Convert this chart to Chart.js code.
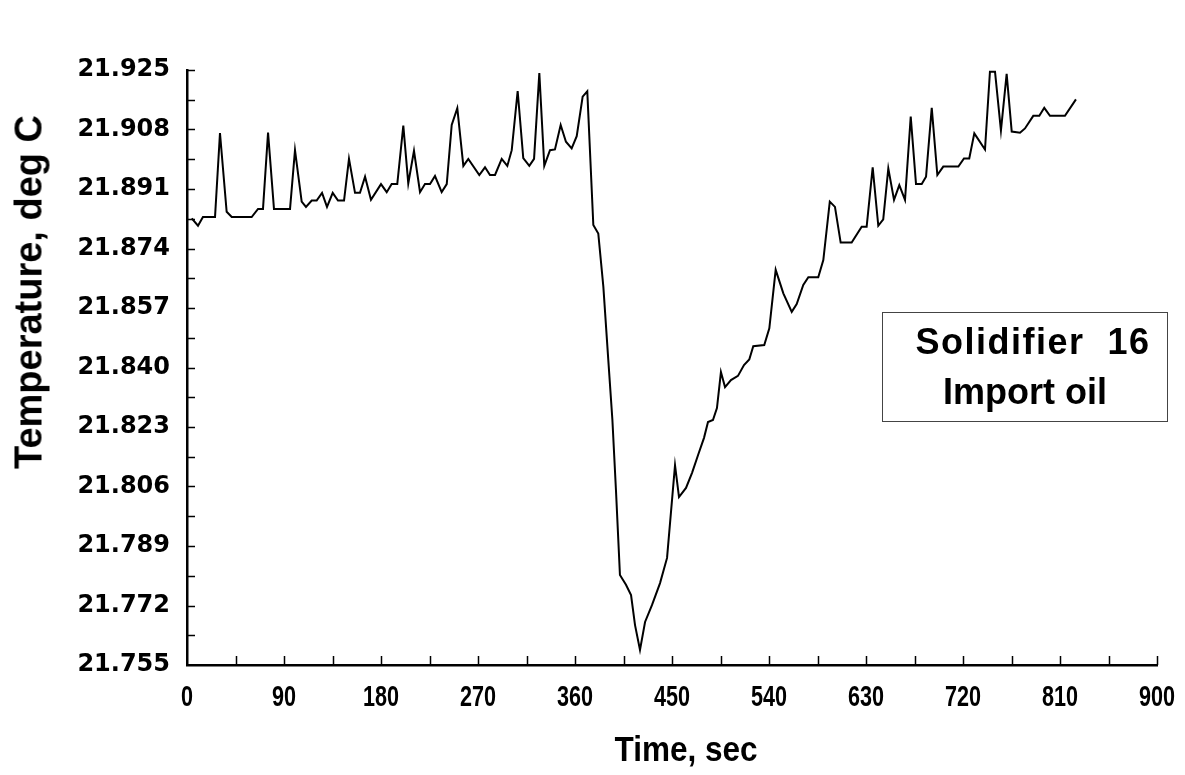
<!DOCTYPE html>
<html>
<head>
<meta charset="utf-8">
<script src="https://cdn.jsdelivr.net/npm/chart.js"></script>
<style>
  html, body { margin: 0; padding: 0; background: #fff; }
  #wrap { position: relative; width: 1185px; height: 775px; overflow: hidden; }
  #chart { position: absolute; left: 0; top: 0; }
  .ytitle {
    position: absolute; left: 29px; top: 292px;
    transform: translate(-50%, -50%) rotate(-90deg);
    font: bold 38px 'Liberation Sans', Arial, sans-serif;
    white-space: nowrap; color: #000;
  }
  .xtitle {
    position: absolute; left: 686px; top: 749px;
    transform: translate(-50%, -50%) scaleX(0.9);
    font: bold 35px 'Liberation Sans', Arial, sans-serif;
    white-space: nowrap; color: #000;
  }
  .note {
    position: absolute; left: 882px; top: 312px; width: 286px; height: 110px;
    box-sizing: border-box; border: 1px solid #444;
    font: bold 36px 'Liberation Sans', Arial, sans-serif; color: #000;
    text-align: center; white-space: pre; line-height: 50px; padding-top: 4px;
  }
  .note span { letter-spacing: 1.5px; position: relative; left: 8px; }
</style>
</head>
<body>
<div id="wrap">
  <canvas id="chart" width="1185" height="775"></canvas>
  <div class="ytitle">Temperature, deg C</div>
  <div class="xtitle">Time, sec</div>
  <div class="note"><span>Solidifier  16</span>
Import oil</div>
</div>
<script>
// --- данные ---
const timeSec = [
  4.4, 10.2, 14.8, 26.0, 30.6, 36.8, 41.5, 60.0, 65.9, 70.5,
  75.2, 80.7, 95.6, 100.2, 106.4, 110.4, 115.7, 120.3, 125.3, 129.9,
  135.2, 140.1, 145.7, 150.3, 155.9, 160.5, 165.2, 170.7, 180.0, 185.3,
  189.9, 195.1, 200.7, 205.3, 210.6, 216.2, 220.8, 225.5, 230.1, 236.3,
  241.0, 245.6, 250.8, 256.4, 261.0, 271.2, 276.5, 281.1, 285.8, 292.0,
  297.2, 301.3, 306.8, 312.0, 317.6, 322.0, 326.9, 331.5, 336.8, 341.4,
  346.7, 351.6, 356.9, 361.6, 367.1, 371.4, 377.0, 381.6, 386.3, 390.9,
  394.7, 398.0, 401.7, 407.3, 412.0, 415.7, 420.3, 425.0, 431.4, 438.9,
  445.4, 452.8, 456.5, 463.0, 468.6, 474.2, 479.7, 483.4, 488.0, 491.7,
  495.4, 499.2, 504.7, 511.2, 516.8, 521.7, 525.4, 535.6, 540.3, 546.2,
  553.3, 561.1, 565.7, 571.8, 576.5, 585.7, 590.4, 596.4, 601.2, 606.5,
  616.7, 626.0, 630.6, 636.2, 641.4, 646.0, 650.7, 656.0, 660.9, 666.2,
  671.5, 676.4, 681.7, 685.7, 691.0, 696.2, 701.7, 715.7, 720.9, 725.8,
  730.5, 740.4, 745.0, 749.7, 755.2, 760.5, 765.2, 772.9, 777.5, 785.2,
  790.8, 795.4, 800.7, 814.6, 824.8
];
const tempC = [
  21.8826, 21.8805, 21.8830, 21.8830, 21.9070, 21.8845, 21.8830, 21.8830, 21.8853, 21.8853,
  21.9071, 21.8853, 21.8853, 21.9021, 21.8874, 21.8859, 21.8877, 21.8877, 21.8899, 21.8859,
  21.8899, 21.8877, 21.8877, 21.8996, 21.8899, 21.8899, 21.8945, 21.8879, 21.8924, 21.8901,
  21.8924, 21.8924, 21.9091, 21.8926, 21.9019, 21.8901, 21.8924, 21.8924, 21.8947, 21.8901,
  21.8924, 21.9093, 21.9141, 21.8976, 21.8996, 21.8950, 21.8972, 21.8950, 21.8950, 21.8996,
  21.8976, 21.9021, 21.9190, 21.8998, 21.8976, 21.8996, 21.9241, 21.8976, 21.9021, 21.9023,
  21.9093, 21.9045, 21.9026, 21.9061, 21.9174, 21.9189, 21.8807, 21.8783, 21.8631, 21.8421,
  21.8250, 21.8050, 21.7807, 21.7779, 21.7750, 21.7664, 21.7593, 21.7673, 21.7721, 21.7784,
  21.7856, 21.8121, 21.8030, 21.8056, 21.8099, 21.8150, 21.8199, 21.8244, 21.8250, 21.8284,
  21.8387, 21.8344, 21.8364, 21.8376, 21.8407, 21.8423, 21.8461, 21.8464, 21.8512, 21.8679,
  21.8612, 21.8559, 21.8581, 21.8636, 21.8658, 21.8658, 21.8707, 21.8874, 21.8859, 21.8757,
  21.8757, 21.8802, 21.8802, 21.8972, 21.8805, 21.8823, 21.8969, 21.8879, 21.8921, 21.8879,
  21.9117, 21.8924, 21.8924, 21.8945, 21.9142, 21.8950, 21.8974, 21.8974, 21.8997, 21.8997,
  21.9069, 21.9023, 21.9245, 21.9245, 21.9077, 21.9239, 21.9074, 21.9071, 21.9083, 21.9119,
  21.9119, 21.9142, 21.9119, 21.9119, 21.9166
];

// подписи осей
const xTickLabels = ['0', '90', '180', '270', '360', '450', '540', '630', '720', '810', '900'];
const yTickLabels = ['21.755', '21.772', '21.789', '21.806', '21.823', '21.840',
                     '21.857', '21.874', '21.891', '21.908', '21.925'];

// основные + промежуточные деления (середины между подписанными)
function withMinor(labels) {
  const major = labels.map(Number);
  const all = [];
  major.forEach((v, i) => {
    all.push({ value: v, major: true });
    if (i < major.length - 1) all.push({ value: (v + major[i + 1]) / 2, major: false });
  });
  return all;
}
const xTicks = withMinor(xTickLabels);
const yTicks = withMinor(yTickLabels);

// --- плагин: засечки внутрь и узкие подписи оси X ---
const innerTicks = {
  id: 'innerTicks',
  afterDraw(chart) {
    const { ctx, chartArea, scales } = chart;
    ctx.save();
    ctx.strokeStyle = '#000';
    ctx.lineWidth = 1.5;
    ctx.beginPath();
    xTicks.forEach(t => {
      if (t.value === 0) return;
      const px = Math.round(scales.x.getPixelForValue(t.value)) + 0.5;
      ctx.moveTo(px, chartArea.bottom);
      ctx.lineTo(px, chartArea.bottom - 9);
    });
    yTicks.forEach((t, i) => {
      if (i === 0) return;
      const py = Math.round(scales.y.getPixelForValue(t.value)) + 0.5;
      ctx.moveTo(chartArea.left, py);
      ctx.lineTo(chartArea.left + 8, py);
    });
    ctx.stroke();

    // подписи X сжаты по ширине, как в оригинале
    ctx.fillStyle = '#000';
    ctx.font = "bold 30px 'Liberation Sans', Arial, sans-serif";
    ctx.textAlign = 'center';
    ctx.textBaseline = 'alphabetic';
    xTickLabels.forEach(lbl => {
      const px = scales.x.getPixelForValue(Number(lbl));
      ctx.save();
      ctx.translate(px, chartArea.bottom + 41);
      ctx.scale(0.72, 1);
      ctx.fillText(lbl, 0, 0);
      ctx.restore();
    });
    ctx.restore();
  }
};

new Chart(document.getElementById('chart'), {
  type: 'line',
  data: {
    datasets: [{
      data: timeSec.map((t, i) => ({ x: t, y: tempC[i] })),
      borderColor: '#000',
      borderWidth: 2,
      pointRadius: 0,
      tension: 0,
      fill: false
    }]
  },
  options: {
    responsive: false,
    devicePixelRatio: 1,
    animation: false,
    layout: { padding: { left: 0, top: 70, right: 28, bottom: 0 } },
    plugins: { legend: { display: false }, tooltip: { enabled: false } },
    scales: {
      x: {
        type: 'linear',
        min: 0, max: 900,
        afterBuildTicks: s => { s.ticks = xTicks.map(t => ({ value: t.value })); },
        afterFit: s => { s.height = 110; s.paddingLeft = 0; s.paddingRight = 0; },
        grid: { display: false, drawTicks: false },
        border: { display: true, color: '#000', width: 2.5 },
        ticks: { display: false }
      },
      y: {
        min: 21.755, max: 21.925,
        afterBuildTicks: s => { s.ticks = yTicks.map(t => ({ value: t.value })); },
        afterFit: s => { s.width = 187; s.paddingTop = 0; s.paddingBottom = 0; },
        grid: { display: false, drawTicks: false },
        border: { display: true, color: '#000', width: 2.5 },
        ticks: {
          autoSkip: false, padding: 17, color: '#000',
          font: { family: "'DejaVu Sans', sans-serif", size: 24, weight: 'bold' },
          callback: (v, i) => yTicks[i].major ? yTickLabels[i / 2] : ''
        }
      }
    }
  },
  plugins: [innerTicks]
});
</script>
</body>
</html>
